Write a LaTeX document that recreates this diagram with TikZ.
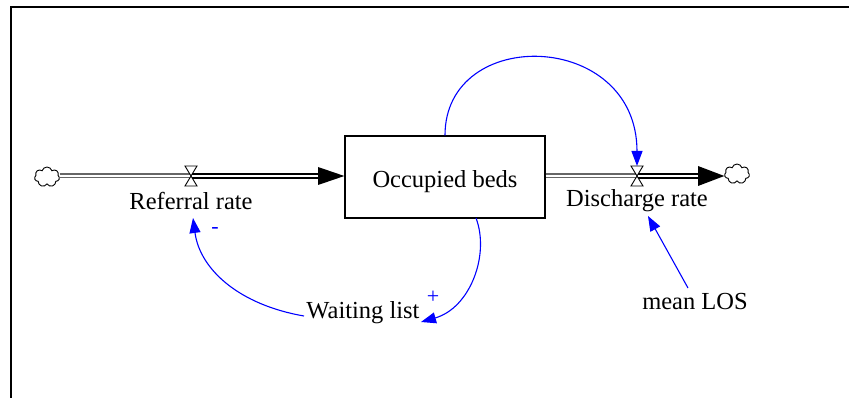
\documentclass[tikz,border=0pt]{standalone}
\usepackage{fontspec}
\setmainfont{Liberation Serif}
\usetikzlibrary{arrows.meta,shapes.symbols}
\begin{document}
\begin{tikzpicture}[x=1pt,y=-1pt,
  lbl/.style={font=\fontsize{24.5}{28}\selectfont, inner sep=0pt},
  sgn/.style={font=\fontsize{22}{24}\selectfont, text=blue, inner sep=0pt},
  stock/.style={draw, line width=1.3pt, minimum width=200pt, minimum height=82pt, inner sep=0pt, text height=22pt, text depth=0pt, font=\fontsize{24.5}{28}\selectfont},
  pipegrey/.style={draw=gray!80!black, double=white, double distance=2.4pt, line width=1.3pt},
  pipeblack/.style={draw=black, double=white, double distance=2.4pt, line width=1.5pt},
  link/.style={draw=blue, line width=1.1pt, -{Triangle[length=15pt,width=11pt]}},
  cloudnode/.style={cloud, cloud puffs=7, cloud ignores aspect, draw, line width=0.9pt, minimum width=25pt, minimum height=20pt, inner sep=0pt},
  valvebox/.style={fill=white, draw, line width=0.9pt}
]
\useasboundingbox (0,0) rectangle (849,398);
% frame
\draw[line width=2pt] (11,398) -- (11,7) -- (849,7);

% nodes
\node[stock] (beds) at (445,177) {Occupied beds};
\node[cloudnode] (srcL) at (47,177) {};
\node[cloudnode] (snkR) at (737,174) {};
\coordinate (vL) at (191,176);
\coordinate (vR) at (637,176);
\coordinate (arrL) at (318,176);
\coordinate (arrR) at (698,176);
\node[lbl] (rr) at (191,201) {Referral rate};
\node[lbl] (dr) at (637,201) {Discharge rate};
\node[lbl] (wl) at (363,313) {Waiting list};
\node[lbl] (los) at (695,302) {mean LOS};
\node[sgn] (plus) at (433,297) {+};
\node[sgn] (minus) at (215,230) {-};

% pipes
\draw[pipegrey] (srcL.east |- vL) -- (vL);
\draw[pipeblack] (vL) -- (arrL);
\fill (beds.west |- arrL) -- ([shift={(0,-9)}]arrL) -- ([shift={(0,9)}]arrL) -- cycle;
\draw[pipegrey] (beds.east |- vR) -- (vR);
\draw[pipeblack] (vR) -- (arrR);
\fill (snkR.west |- arrR) -- ([shift={(0,-10)}]arrR) -- ([shift={(0,10)}]arrR) -- cycle;

% valves
\draw[valvebox] ([shift={(-6,-10)}]vL) -- ([shift={(6,-10)}]vL) -- ([shift={(-6,10)}]vL) -- ([shift={(6,10)}]vL) -- cycle;
\draw[valvebox] ([shift={(-6,-10)}]vR) -- ([shift={(6,-10)}]vR) -- ([shift={(-6,10)}]vR) -- ([shift={(6,10)}]vR) -- cycle;

% links
\coordinate (vRtop) at (637,166);
\coordinate (bedsOut) at (476,218);
\coordinate (wlIn) at (421,322);
\coordinate (wlOut) at (304,316);
\coordinate (rrIn) at (193,218);
\coordinate (losOut) at (688,288);
\coordinate (drIn) at (648,216);
\draw[link] (beds.north) .. controls (445,25) and (637,30) .. (vRtop);
\draw[link] (bedsOut) .. controls (490,255) and (470,308) .. (wlIn);
\draw[link] (wlOut) .. controls (240,305) and (200,270) .. (rrIn);
\draw[link] (losOut) -- (drIn);
\end{tikzpicture}
\end{document}
